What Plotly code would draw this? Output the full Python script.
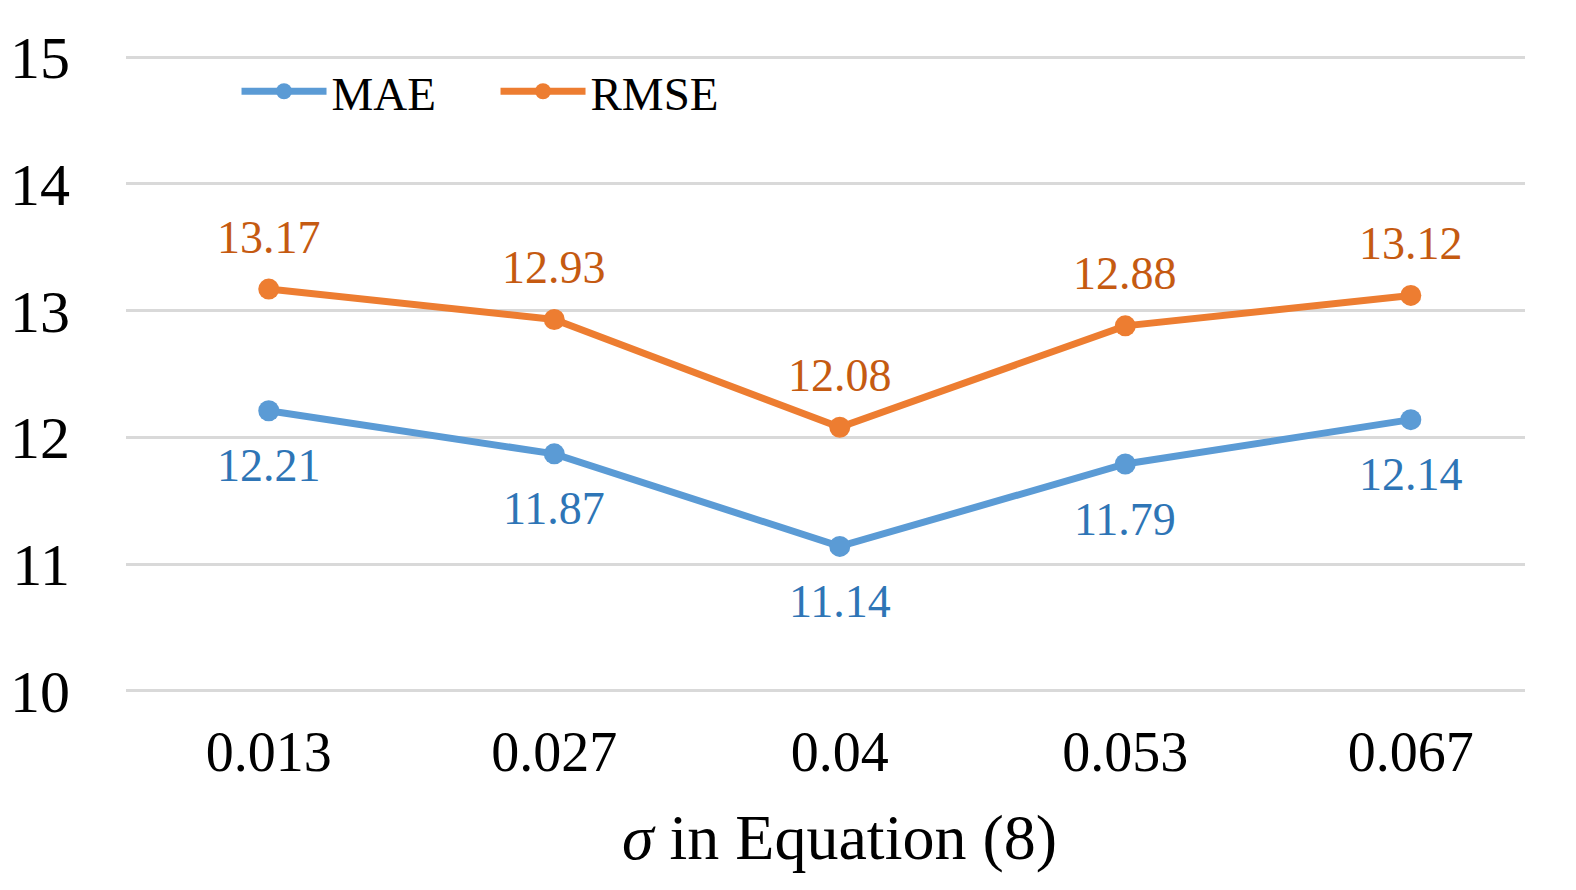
import plotly.graph_objects as go

categories = ["0.013", "0.027", "0.04", "0.053", "0.067"]
mae = [12.21, 11.87, 11.14, 11.79, 12.14]
rmse = [13.17, 12.93, 12.08, 12.88, 13.12]
y_ticks = [10, 11, 12, 13, 14, 15]
x_title = "<i>σ</i> in Equation (8)"

FONT = "Liberation Serif, Times New Roman, serif"
x_pos = list(range(len(categories)))

fig = go.Figure()
fig.add_trace(go.Scatter(x=x_pos, y=mae, mode="lines+markers", name="MAE",
                         line=dict(color="#5B9BD5", width=7),
                         marker=dict(size=21, color="#5B9BD5")))
fig.add_trace(go.Scatter(x=x_pos, y=rmse, mode="lines+markers", name="RMSE",
                         line=dict(color="#ED7D31", width=7),
                         marker=dict(size=21, color="#ED7D31")))

for xi, v in zip(x_pos, mae):
    fig.add_annotation(x=xi, y=v, text=f"{v:.2f}", showarrow=False, yshift=-55,
                       font=dict(family=FONT, size=46, color="#2E75B6"))
for xi, v in zip(x_pos, rmse):
    fig.add_annotation(x=xi, y=v, text=f"{v:.2f}", showarrow=False, yshift=52,
                       font=dict(family=FONT, size=46, color="#C55A11"))

# x-axis title (centred under the middle category, as in the reference)
fig.add_annotation(xref="paper", yref="paper", x=0.5099, y=-0.218,
                   xanchor="center", yanchor="middle", showarrow=False,
                   text=x_title, font=dict(family=FONT, size=64, color="black"))

fig.update_layout(
    width=1576, height=890,
    margin=dict(l=118, r=59, t=43, b=201, autoexpand=False),
    paper_bgcolor="white", plot_bgcolor="white",
    font=dict(family=FONT, color="black"),
    showlegend=True,
    legend=dict(orientation="h", x=0.079, y=0.937, xanchor="left", yanchor="middle",
                font=dict(family=FONT, size=47), itemwidth=85,
                bgcolor="rgba(0,0,0,0)", entrywidth=159),
    xaxis=dict(range=[-0.5, 4.4], tickmode="array", tickvals=x_pos, ticktext=categories,
               showgrid=False, zeroline=False, showline=False, automargin=False,
               tickfont=dict(family=FONT, size=56, color="black"),
               ticks="", ticklabelstandoff=17),
    yaxis=dict(range=[9.952, 15.048], tickvals=y_ticks, showgrid=True, gridcolor="#D9D9D9", gridwidth=3,
               zeroline=False, showline=False, automargin=False,
               tickfont=dict(family=FONT, size=60, color="black"), ticks="", ticklabelstandoff=55),
)

fig.write_html("out.html")
